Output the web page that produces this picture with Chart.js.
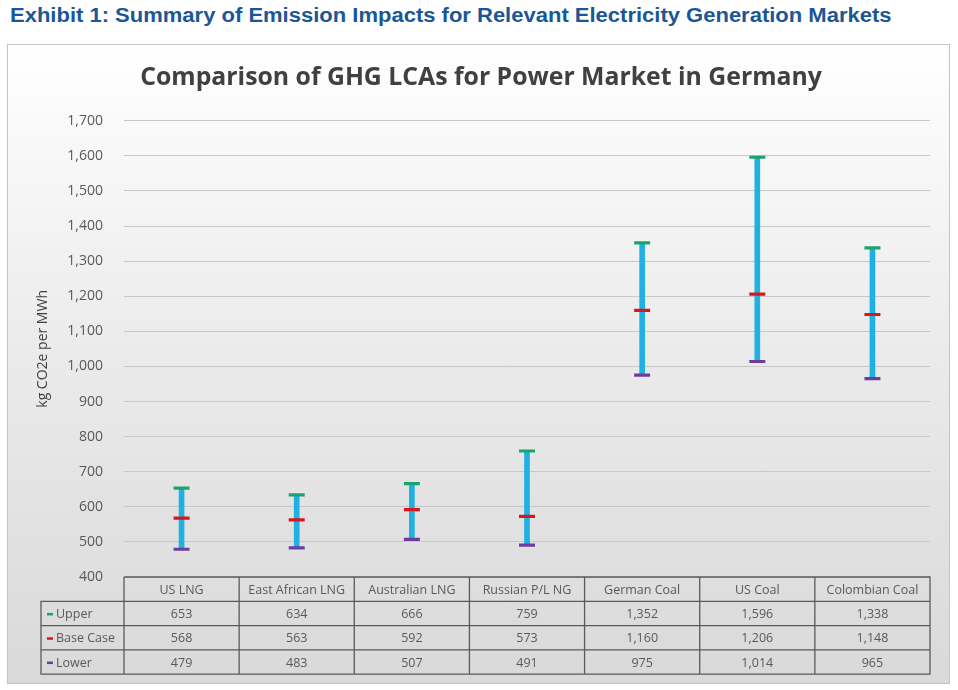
<!DOCTYPE html>
<html>
<head>
<meta charset="utf-8">
<script src="https://cdn.jsdelivr.net/npm/chart.js@4"></script>
<style>
  html, body { margin: 0; padding: 0; background: #fff; }
  body { width: 958px; height: 690px; position: relative; overflow: hidden; }
  #header {
    position: absolute; left: 10px; top: 4px;
    font: bold 20px "Liberation Sans", Arial, sans-serif;
    line-height: 22px; color: #1b5796; white-space: nowrap;
    transform: scaleX(1.1); transform-origin: left top;
  }
  #frame {
    position: absolute; left: 7px; top: 44px; width: 943px; height: 640px;
    box-sizing: border-box; border: 1px solid #c4c4c4;
    background: linear-gradient(to bottom, #ffffff 0%, #ececec 45%, #d9d9d9 100%);
  }
  #chart { display: block; }
</style>
</head>
<body>
<div id="header">Exhibit 1: Summary of Emission Impacts for Relevant Electricity Generation Markets</div>
<div id="frame"><canvas id="chart" width="941" height="638"></canvas></div>
<script>
// Chart data
const categories = ['US LNG', 'East African LNG', 'Australian LNG', 'Russian P/L NG', 'German Coal', 'US Coal', 'Colombian Coal'];
const upperValues = [653, 634, 666, 759, 1352, 1596, 1338];
const baseValues = [568, 563, 592, 573, 1160, 1206, 1148];
const lowerValues = [479, 483, 507, 491, 975, 1014, 965];
const seriesNames = ['Upper', 'Base Case', 'Lower'];

const colors = {
  upper: '#1ba36c',
  base: '#d8161e',
  lower: '#6a3e9e',
  range: '#1fb1e3',
};

const fmt = (v) => v.toLocaleString('en-US');

// Draws the data table under the plot, aligned with the category scale
const tablePlugin = {
  id: 'dataTable',
  afterDraw(chart) {
    const { ctx, chartArea } = chart;
    const x = chart.scales.x;
    const rowH = 24.3;
    const top = chartArea.bottom;
    const labelLeft = 33;
    const rows = [
      { name: seriesNames[0], color: colors.upper, values: upperValues },
      { name: seriesNames[1], color: colors.base, values: baseValues },
      { name: seriesNames[2], color: colors.lower, values: lowerValues },
    ];

    // column edges from the scale
    const edges = [chartArea.left];
    for (let i = 0; i < categories.length - 1; i++) {
      edges.push((x.getPixelForValue(i) + x.getPixelForValue(i + 1)) / 2);
    }
    edges.push(chartArea.right);

    const bottom = top + rowH * 4;

    ctx.save();
    ctx.strokeStyle = '#5a5a5a';
    ctx.lineWidth = 1.3;

    ctx.beginPath();
    ctx.moveTo(chartArea.left, top);
    ctx.lineTo(chartArea.right, top);
    ctx.lineTo(chartArea.right, bottom);
    ctx.lineTo(labelLeft, bottom);
    ctx.lineTo(labelLeft, top + rowH);
    ctx.lineTo(chartArea.right, top + rowH);
    ctx.moveTo(chartArea.left, top);
    ctx.lineTo(chartArea.left, bottom);
    for (let r = 2; r < 4; r++) {
      ctx.moveTo(labelLeft, top + rowH * r);
      ctx.lineTo(chartArea.right, top + rowH * r);
    }
    for (let i = 1; i < edges.length - 1; i++) {
      ctx.moveTo(edges[i], top);
      ctx.lineTo(edges[i], bottom);
    }
    ctx.stroke();

    ctx.font = '12.5px "Open Sans", sans-serif';
    ctx.fillStyle = '#595959';
    ctx.textAlign = 'center';
    ctx.textBaseline = 'middle';

    categories.forEach((c, i) => {
      ctx.fillText(c, x.getPixelForValue(i), top + rowH / 2 + 1);
    });

    rows.forEach((row, r) => {
      const cy = top + rowH * (r + 1.5) + 1;
      row.values.forEach((v, i) => {
        ctx.fillText(fmt(v), x.getPixelForValue(i), cy);
      });
      // legend key
      ctx.fillStyle = row.color;
      ctx.fillRect(labelLeft + 6, cy - 1.5, 6, 2.5);
      ctx.fillStyle = '#595959';
      ctx.textAlign = 'left';
      ctx.fillText(row.name, labelLeft + 15, cy);
      ctx.textAlign = 'center';
    });
    ctx.restore();
  },
};

const capDataset = (label, data, color) => ({
  type: 'line',
  label: label,
  data: data,
  showLine: false,
  pointStyle: 'line',
  pointRadius: 8,
  pointHoverRadius: 8,
  pointBorderWidth: 3.2,
  pointHoverBorderWidth: 3.2,
  borderColor: color,
  backgroundColor: color,
  order: 1,
});

new Chart(document.getElementById('chart').getContext('2d'), {
  type: 'bar',
  data: {
    labels: categories,
    datasets: [
      capDataset(seriesNames[0], upperValues, colors.upper),
      capDataset(seriesNames[1], baseValues, colors.base),
      capDataset(seriesNames[2], lowerValues, colors.lower),
      {
        type: 'bar',
        label: 'Range',
        data: lowerValues.map((v, i) => [v, upperValues[i]]),
        backgroundColor: colors.range,
        borderWidth: 0,
        barThickness: 5,
        order: 10,
      },
    ],
  },
  options: {
    responsive: false,
    animation: false,
    layout: {
      padding: { left: 24, right: 19, top: 0, bottom: 106 },
    },
    plugins: {
      legend: { display: false },
      tooltip: { enabled: false },
      title: {
        display: true,
        text: 'Comparison of GHG LCAs for Power Market in Germany',
        color: '#404040',
        font: { family: '"Open Sans", sans-serif', size: 24.8, weight: 'bold' },
        padding: { top: 18, bottom: 28 },
      },
    },
    scales: {
      x: {
        ticks: { display: false },
        grid: { display: false },
        border: { display: false },
        afterFit: (scale) => { scale.height = 0; },
      },
      y: {
        min: 400,
        max: 1700,
        ticks: {
          stepSize: 100,
          padding: 21,
          color: '#595959',
          font: { family: '"Open Sans", sans-serif', size: 14 },
          callback: (value) => fmt(value),
        },
        grid: { color: '#c8c8c8', lineWidth: 1, drawTicks: false },
        border: { display: false },
        title: {
          display: true,
          text: 'kg CO2e per MWh',
          color: '#404040',
          font: { family: '"Open Sans", sans-serif', size: 14 },
          padding: { top: 3, bottom: 0 },
        },
        afterFit: (scale) => { scale.width = 92; },
      },
    },
  },
  plugins: [tablePlugin],
});
</script>
</body>
</html>
